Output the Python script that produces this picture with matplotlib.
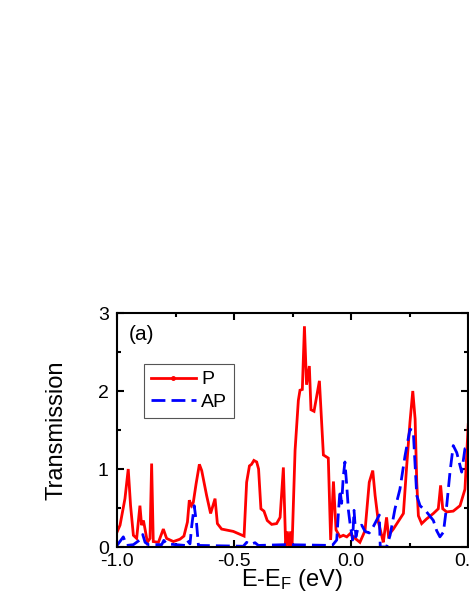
"""
Transmission spectrum, P and AP configurations - panel (a)
"""
####################################################################################################################
# Libs
import matplotlib
matplotlib.use('Agg')
import matplotlib.pyplot as plt
from matplotlib.lines import Line2D
from matplotlib.ticker import MultipleLocator

####################################################################################################################
# Data

# P configuration (red solid)
energyP = [-1.0, -0.987, -0.966, -0.952, -0.942, -0.930, -0.916, -0.902, -0.895, -0.887, -0.879, -0.870,
           -0.859, -0.852, -0.845, -0.823, -0.802, -0.788, -0.759, -0.731, -0.714, -0.699, -0.691, -0.682,
           -0.674, -0.662, -0.648, -0.638, -0.617, -0.600, -0.581, -0.571, -0.553, -0.503, -0.457, -0.446,
           -0.434, -0.425, -0.415, -0.403, -0.395, -0.385, -0.372, -0.358, -0.339, -0.318, -0.303, -0.289,
           -0.279, -0.272, -0.265, -0.258, -0.252, -0.239, -0.225, -0.218, -0.208, -0.199, -0.190, -0.178,
           -0.171, -0.158, -0.135, -0.118, -0.097, -0.087, -0.075, -0.064, -0.047, -0.033, -0.018, -0.004,
           0.010, 0.038, 0.060, 0.078, 0.093, 0.103, 0.117, 0.131, 0.138, 0.152, 0.160, 0.181, 0.209, 0.224,
           0.238, 0.252, 0.264, 0.274, 0.281, 0.288, 0.302, 0.323, 0.352, 0.373, 0.383, 0.392, 0.409, 0.437,
           0.466, 0.487, 0.501]
transP = [0.19, 0.28, 0.62, 1.00, 0.53, 0.15, 0.11, 0.53, 0.28, 0.34, 0.21, 0.06,
          0.11, 1.07, 0.07, 0.06, 0.23, 0.11, 0.07, 0.10, 0.14, 0.32, 0.60, 0.53,
          0.57, 0.81, 1.06, 0.98, 0.66, 0.43, 0.62, 0.30, 0.23, 0.20, 0.14, 0.83,
          1.04, 1.06, 1.11, 1.09, 1.00, 0.49, 0.46, 0.34, 0.29, 0.30, 0.38, 1.02,
          0.00, 0.20, 0.00, 0.20, 0.00, 1.24, 1.88, 2.01, 2.02, 2.83, 2.08, 2.32,
          1.76, 1.74, 2.13, 1.18, 1.14, 0.09, 0.84, 0.22, 0.13, 0.15, 0.13, 0.17,
          0.13, 0.06, 0.21, 0.83, 0.98, 0.66, 0.32, 0.15, 0.06, 0.38, 0.15, 0.23, 0.36, 0.43,
          1.04, 1.60, 2.00, 1.64, 0.83, 0.40, 0.30, 0.36, 0.43, 0.49, 0.79, 0.49, 0.45, 0.46,
          0.53, 0.74, 1.57]

# AP configuration (blue dashed)
energyAP = [-1.0, -0.984, -0.973, -0.959, -0.930, -0.905, -0.890, -0.880, -0.866, -0.809, -0.800, -0.788,
            -0.709, -0.700, -0.688, -0.681, -0.670, -0.660, -0.652, -0.460, -0.446, -0.432, -0.410, -0.396,
            -0.280, -0.080, -0.061, -0.054, -0.047, -0.040, -0.033, -0.026, -0.019, -0.011, -0.004, 0.007,
            0.013, 0.021, 0.031, 0.046, 0.060, 0.078, 0.095, 0.121, 0.125, 0.152, 0.167, 0.188, 0.209, 0.231,
            0.252, 0.266, 0.281, 0.295, 0.323, 0.352, 0.366, 0.380, 0.395, 0.409, 0.423, 0.437, 0.452, 0.473,
            0.487, 0.501]
transAP = [0.02, 0.085, 0.13, 0.02, 0.03, 0.085, 0.16, 0.06, 0.03, 0.03, 0.085, 0.04,
           0.02, 0.085, 0.04, 0.26, 0.53, 0.30, 0.02, 0.01, 0.06, 0.03, 0.055, 0.02,
           0.03, 0.02, 0.09, 0.43, 0.73, 0.56, 0.90, 1.09, 0.82, 0.47, 0.30, 0.09,
           0.47, 0.13, 0.26, 0.28, 0.20, 0.18, 0.26, 0.41, 0.00, 0.00, 0.15, 0.49, 0.74, 1.17,
           1.51, 1.49, 0.66, 0.53, 0.45, 0.34, 0.21, 0.13, 0.19, 0.53, 0.96, 1.30, 1.21, 0.96,
           1.26, 1.28]

####################################################################################################################
# Style
plt.rcParams['font.family'] = ['Liberation Sans', 'DejaVu Sans']
plt.rcParams['axes.linewidth'] = 1.5
plt.rcParams['axes.unicode_minus'] = False  # plain hyphen like the original ("-1.0")

####################################################################################################################
# Plot
fig = plt.figure(figsize = (4.69, 6.07), dpi = 100)
ax = fig.add_axes([117 / 469, 60 / 607, 351 / 469, 234 / 607])

ax.plot(energyP, transP, color = '#FF0000', linewidth = 2.0, solid_joinstyle = 'miter')
ax.plot(energyAP, transAP, color = '#0000FF', linewidth = 2.0, linestyle = (0, (5, 2.2)))

ax.set_xlim(-1.0, 0.5)
ax.set_ylim(0, 3)
ax.xaxis.set_major_locator(MultipleLocator(0.5))
ax.xaxis.set_minor_locator(MultipleLocator(0.25))
ax.yaxis.set_major_locator(MultipleLocator(1))
ax.yaxis.set_minor_locator(MultipleLocator(0.5))
ax.tick_params(which = 'both', direction = 'in', top = True, right = True, width = 1.5, labelsize = 14)
ax.tick_params(axis = 'x', pad = 4)
ax.tick_params(axis = 'y', pad = 6)
ax.tick_params(which = 'major', length = 5)
ax.tick_params(which = 'minor', length = 3)

ax.set_xlabel('E-E$\\mathregular{_F}$ (eV)', fontsize = 17)
ax.set_ylabel('Transmission', fontsize = 17)
ax.xaxis.set_label_coords(0.5, -0.085)
ax.yaxis.set_label_coords(-0.142, 0.5)

ax.text(0.034, 0.91, '(a)', transform = ax.transAxes, fontsize = 15, va = 'center', ha = 'left')

# legend handles (P has a small dot in the middle of the line)
handles = [Line2D([], [], color = '#FF0000', linewidth = 2.0, marker = 'o', markersize = 2.5),
           Line2D([], [], color = '#0000FF', linewidth = 2.0, linestyle = (0, (5, 2.2)))]
leg = ax.legend(handles, ['P', 'AP'], loc = 'upper left', bbox_to_anchor = (0.077, 0.782), borderaxespad = 0,
                fontsize = 14, handlelength = 2.3, handletextpad = 0.3, labelspacing = 0.25, borderpad = 0.35,
                fancybox = False, framealpha = 1)
leg.get_frame().set_edgecolor('#555555')
leg.get_frame().set_linewidth(0.8)

fig.savefig('out.png', dpi = 100)
